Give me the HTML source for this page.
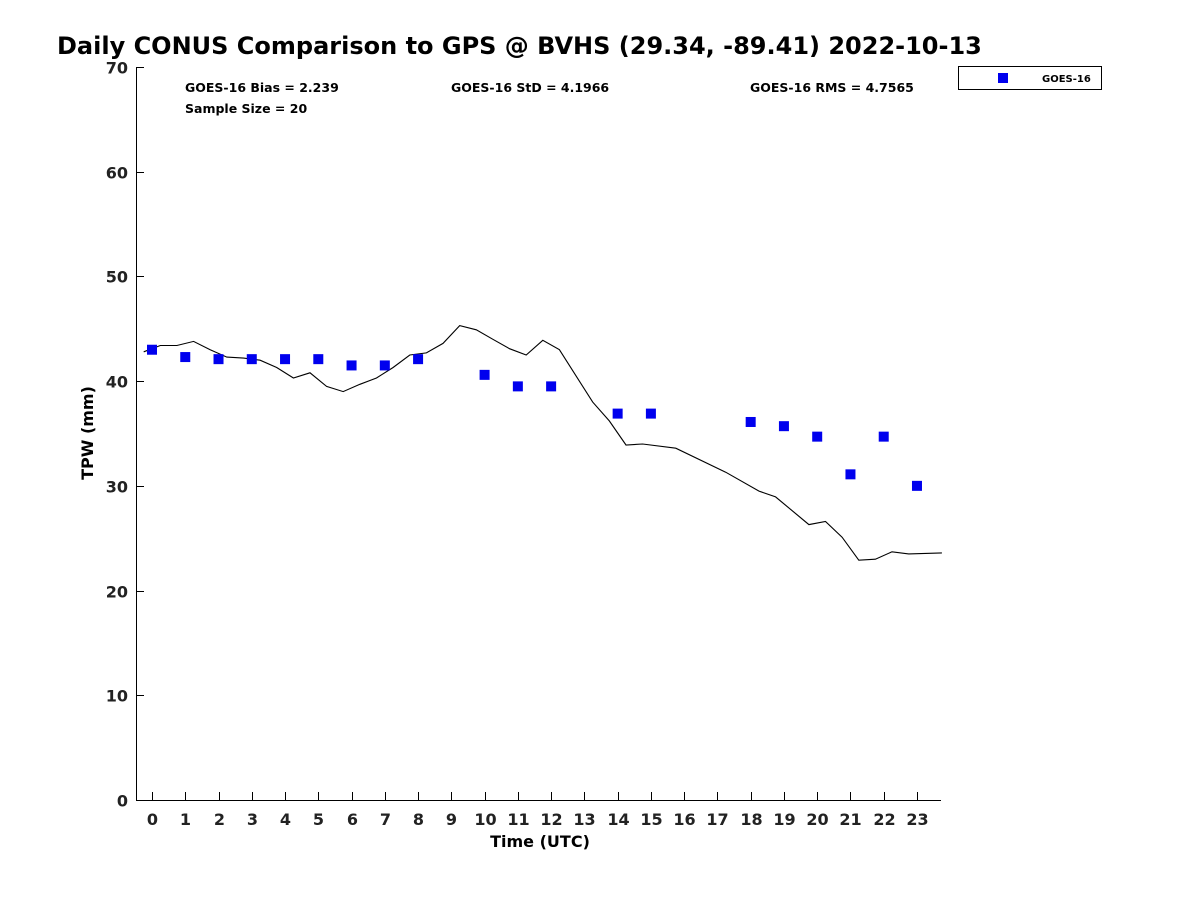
<!DOCTYPE html>
<html><head><meta charset="utf-8"><style>
body{margin:0;background:#fff;font-family:"Liberation Sans","DejaVu Sans",sans-serif}
svg text{font-family:"DejaVu Sans","Liberation Sans",sans-serif}
</style></head><body>
<svg id="chart" width="1200" height="900" xmlns="http://www.w3.org/2000/svg">
<rect width="1200" height="900" fill="#fff"/>
<text x="57" y="54" font-size="24" font-weight="bold">Daily CONUS Comparison to GPS @ BVHS (29.34, -89.41) 2022-10-13</text>
<g id="axes"></g>
<g id="series"></g>
<text x="185" y="92" font-size="12.5" font-weight="bold">GOES-16 Bias = 2.239</text>
<text x="185" y="113" font-size="12.5" font-weight="bold">Sample Size = 20</text>
<text x="451" y="92" font-size="12.5" font-weight="bold">GOES-16 StD = 4.1966</text>
<text x="750" y="92" font-size="12.5" font-weight="bold">GOES-16 RMS = 4.7565</text>
<g>
<rect x="958.5" y="66.5" width="143" height="23" fill="#fff" stroke="#000"/>
<rect x="998" y="73" width="10" height="10" fill="#0000ee"/>
<text x="1042" y="82" font-size="10" font-weight="bold">GOES-16</text>
</g>
<text x="540" y="847" font-size="16" font-weight="bold" text-anchor="middle">Time (UTC)</text>
<text transform="translate(93,433) rotate(-90)" font-size="16" font-weight="bold" text-anchor="middle">TPW (mm)</text>
</svg>
<script>
const gpsTimes=[-0.25,0.25,0.75,1.25,1.75,2.25,2.75,3.25,3.75,4.25,4.75,5.25,5.75,6.25,6.75,7.25,7.75,8.25,8.75,9.25,9.75,10.25,10.75,11.25,11.75,12.25,13.25,13.75,14.25,14.75,15.75,17.25,18.25,18.75,19.75,20.25,20.75,21.25,21.75,22.25,22.75,23.75];
const gpsValues=[42.8,43.4,43.4,43.8,43.0,42.3,42.2,42.0,41.3,40.3,40.8,39.5,39.0,39.7,40.3,41.3,42.5,42.7,43.6,45.3,44.9,44.0,43.1,42.5,43.9,43.0,38.0,36.2,33.9,34.0,33.6,31.3,29.5,28.95,26.3,26.6,25.1,22.9,23.0,23.7,23.5,23.6];
const goesHours=[0,1,2,3,4,5,6,7,8,10,11,12,14,15,18,19,20,21,22,23];
const goesValues=[43.0,42.3,42.1,42.1,42.1,42.1,41.5,41.5,42.1,40.6,39.5,39.5,36.9,36.9,36.1,35.7,34.7,31.1,34.7,30.0];
const xTicks=[0,1,2,3,4,5,6,7,8,9,10,11,12,13,14,15,16,17,18,19,20,21,22,23];
const yTicks=[0,10,20,30,40,50,60,70];
const NS="http://www.w3.org/2000/svg";
const L=136,R=941,T=67,B=800;
const X=t=>152+t*33.26;
const Y=v=>B-(v/70)*(B-T);
function mk(tag,attrs,parent){const e=document.createElementNS(NS,tag);for(const k in attrs)e.setAttribute(k,attrs[k]);parent.appendChild(e);return e;}
const ax=document.getElementById('axes'),sr=document.getElementById('series');
let e=mk('path',{d:`M${L+.5},${T}V${B+.5}H${R}`,fill:'none',stroke:'#000'},ax);


yTicks.forEach(v=>{const y=Math.round(Y(v))+.5;
 let t=mk('line',{x1:L,x2:L+8,y1:y,y2:y,stroke:'#000'},ax);
 
 
 let l=mk('text',{x:L-8,y:y+6,'font-size':16,'font-weight':'bold','text-anchor':'end',fill:'#222'},ax);l.textContent=v;
 
 });
xTicks.forEach(h=>{const x=Math.round(X(h))+.5;
 let t=mk('line',{x1:x,x2:x,y1:B,y2:B-8,stroke:'#000'},ax);
 
 
 let l=mk('text',{x:x,y:825,'font-size':16,'font-weight':'bold','text-anchor':'middle',fill:'#222'},ax);l.textContent=h;
 
 });
const line=mk('polyline',{points:gpsTimes.map((t,i)=>X(t).toFixed(1)+','+Y(gpsValues[i]).toFixed(1)).join(' '),fill:'none',stroke:'#000','stroke-width':1.1},sr);


goesHours.forEach((h,i)=>{const r=mk('rect',{x:X(h)-5,y:Y(goesValues[i])-5,width:10,height:10,fill:'#0000ee'},sr);
 
 });
</script>
</body></html>
